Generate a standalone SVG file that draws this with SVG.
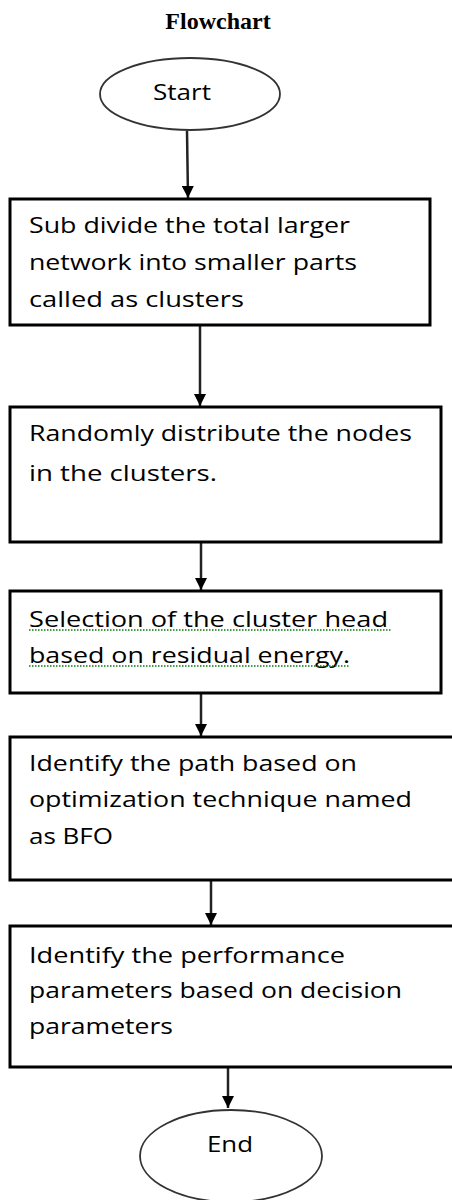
<svg xmlns="http://www.w3.org/2000/svg" width="452" height="1200" viewBox="0 0 452 1200">
<style>
.title{font-family:"Liberation Serif",serif;font-weight:bold;font-size:24px;fill:#000}
.t{font-family:"Open Sans","Liberation Sans",sans-serif;font-size:21px;fill:#000}
.box{fill:#fff;stroke:#000;stroke-width:3}
.ell{fill:#fff;stroke:#333;stroke-width:1.8}
.con{stroke:#222;stroke-width:2.5;fill:none;marker-end:url(#ah)}
.sq{stroke:#0a7a0a;stroke-width:1.4;fill:none;stroke-dasharray:1.5 1.5}
</style>
<defs>
<marker id="ah" markerWidth="12" markerHeight="12" refX="10" refY="5" orient="auto" markerUnits="userSpaceOnUse" viewBox="0 0 10 10">
<path d="M0,0 L10,5 L0,10 Z" fill="#000"/>
</marker>
</defs>
<rect width="452" height="1200" fill="#fff"/>
<text class="title" x="218" y="29" text-anchor="middle">Flowchart</text>
<g id="connectors">
<line class="con" x1="187" y1="131" x2="188" y2="198"/>
<line class="con" x1="200" y1="326" x2="200" y2="406"/>
<line class="con" x1="201" y1="543" x2="201" y2="590"/>
<line class="con" x1="201" y1="694" x2="201" y2="736"/>
<line class="con" x1="211" y1="881" x2="211" y2="925"/>
<line class="con" x1="228" y1="1068" x2="228" y2="1108"/>
</g>
<g id="start">
<ellipse class="ell" cx="190" cy="94" rx="90" ry="36"/>
<text class="t" x="153" y="100" textLength="58" lengthAdjust="spacingAndGlyphs">Start</text>
</g>
<g id="step1">
<rect class="box" x="10" y="199" width="420" height="126"/>
<text class="t" x="29" y="233" textLength="321" lengthAdjust="spacingAndGlyphs">Sub divide the total larger</text>
<text class="t" x="29" y="270" textLength="328" lengthAdjust="spacingAndGlyphs">network into smaller parts</text>
<text class="t" x="29" y="307" textLength="215" lengthAdjust="spacingAndGlyphs">called as clusters</text>
</g>
<g id="step2">
<rect class="box" x="10" y="407" width="431" height="135"/>
<text class="t" x="29" y="441" textLength="383" lengthAdjust="spacingAndGlyphs">Randomly distribute the nodes</text>
<text class="t" x="29" y="481" textLength="188" lengthAdjust="spacingAndGlyphs">in the clusters.</text>
</g>
<g id="step3">
<rect class="box" x="10" y="591" width="431" height="102"/>
<text class="t" x="29" y="627" textLength="359" lengthAdjust="spacingAndGlyphs">Selection of the cluster head</text>
<text class="t" x="29" y="663" textLength="321" lengthAdjust="spacingAndGlyphs">based on residual energy.</text>
<path class="sq" d="M29,630 H391"/>
<path class="sq" d="M29,666 H350"/>
</g>
<g id="step4">
<rect class="box" x="10" y="737" width="445" height="143"/>
<text class="t" x="29" y="771" textLength="328" lengthAdjust="spacingAndGlyphs">Identify the path based on</text>
<text class="t" x="29" y="807" textLength="383" lengthAdjust="spacingAndGlyphs">optimization technique named</text>
<text class="t" x="29" y="844" textLength="84" lengthAdjust="spacingAndGlyphs">as BFO</text>
</g>
<g id="step5">
<rect class="box" x="10" y="926" width="445" height="141"/>
<text class="t" x="29" y="963" textLength="316" lengthAdjust="spacingAndGlyphs">Identify the performance</text>
<text class="t" x="29" y="998" textLength="373" lengthAdjust="spacingAndGlyphs">parameters based on decision</text>
<text class="t" x="29" y="1034" textLength="144" lengthAdjust="spacingAndGlyphs">parameters</text>
</g>
<g id="end">
<ellipse class="ell" cx="231" cy="1156" rx="91" ry="46"/>
<text class="t" x="207" y="1152" textLength="46" lengthAdjust="spacingAndGlyphs">End</text>
</g>
</svg>
